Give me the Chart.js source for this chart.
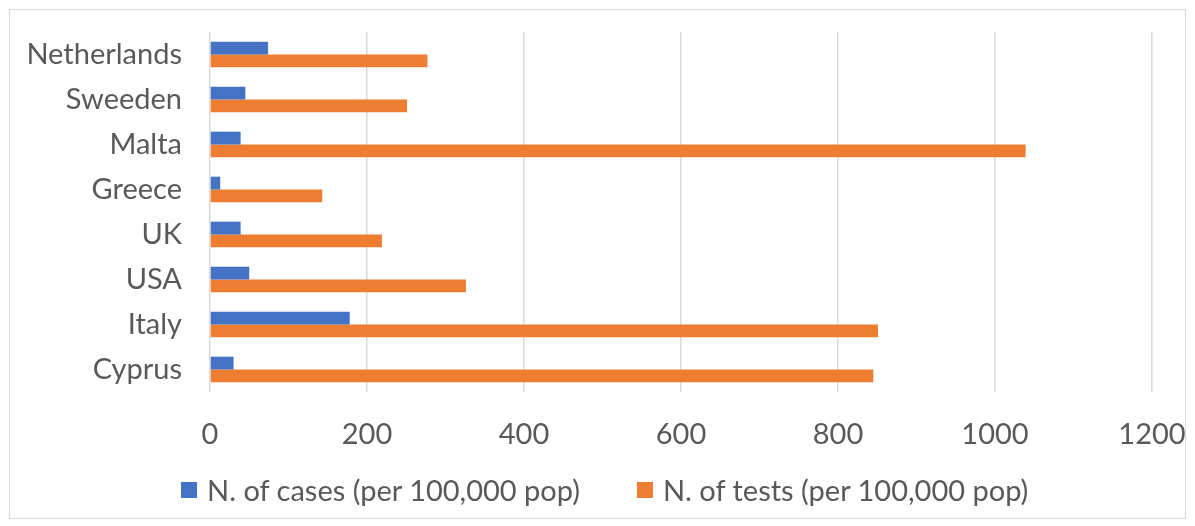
<!DOCTYPE html>
<html>
<head>
<meta charset="utf-8">
<script src="https://cdn.jsdelivr.net/npm/chart.js@4.4.0/dist/chart.umd.min.js"></script>
<style>
  html, body { margin: 0; padding: 0; background: #fff; }
  #wrap {
    position: absolute; left: 9px; top: 9px;
    width: 1177px; height: 510px;
    border: 1px solid #d9d9d9; box-sizing: border-box;
  }
  #legend {
    position: absolute; left: 171px; top: 462px;
    display: flex; align-items: center; gap: 57px;
    font-family: Lato, 'Open Sans', sans-serif; font-size: 29px; color: #595959;
    white-space: nowrap;
  }
  #legend .item { display: flex; align-items: center; gap: 10px; }
  #legend .box { width: 16px; height: 16px; }
</style>
</head>
<body>
<div id="wrap"><canvas id="chart"></canvas><div id="legend"></div></div>
<script>
const countries = ["Netherlands", "Sweeden", "Malta", "Greece", "UK", "USA", "Italy", "Cyprus"];
const cases = [74, 45, 39, 13, 39, 50, 178, 30];
const tests = [277, 251, 1039, 143, 219, 326, 851, 845];
const xTicks = [0, 200, 400, 600, 800, 1000, 1200];

const textColor = "#595959";
const fontFamily = "Lato, 'Open Sans', sans-serif";

function noPad(s) {
    s.paddingTop = 0; s.paddingBottom = 0; s.paddingLeft = 0; s.paddingRight = 0;
}

const ctx = document.getElementById("chart").getContext("2d");
const chart = new Chart(ctx, {
    type: "bar",
    data: {
        labels: countries,
        datasets: [
            { label: "N. of cases (per 100,000 pop)", data: cases, backgroundColor: "#4472C4" },
            { label: "N. of tests (per 100,000 pop)", data: tests, backgroundColor: "#ED7D31" }
        ]
    },
    options: {
        indexAxis: "y",
        responsive: true,
        maintainAspectRatio: false,
        animation: false,
        layout: { padding: { left: 0, right: 33, top: 22, bottom: 51 } },
        datasets: { bar: { barPercentage: 1, categoryPercentage: 0.57 } },
        scales: {
            x: {
                min: 0, max: 1200,
                afterBuildTicks: s => { s.ticks = xTicks.map(v => ({ value: v })); },
                grid: { color: "#d9d9d9", lineWidth: 1.5, drawTicks: false },
                border: { display: false },
                ticks: {
                    color: textColor, font: { family: fontFamily, size: 29 }, padding: 25,
                    callback: v => String(v)
                },
                afterFit: s => { s.height = 75; noPad(s); }
            },
            y: {
                grid: { display: false, drawTicks: false },
                border: { display: false },
                ticks: { color: textColor, font: { family: fontFamily, size: 29 }, padding: 28 },
                afterFit: s => { s.width = 200; noPad(s); }
            }
        },
        plugins: {
            legend: { display: false },
            tooltip: { enabled: false }
        }
    }
});

// legend as html, built from the datasets
const legendEl = document.getElementById("legend");
chart.data.datasets.forEach(ds => {
    const item = document.createElement("div");
    item.className = "item";
    const box = document.createElement("span");
    box.className = "box";
    box.style.background = ds.backgroundColor;
    const txt = document.createElement("span");
    txt.textContent = ds.label;
    item.appendChild(box);
    item.appendChild(txt);
    legendEl.appendChild(item);
});
</script>
</body>
</html>
